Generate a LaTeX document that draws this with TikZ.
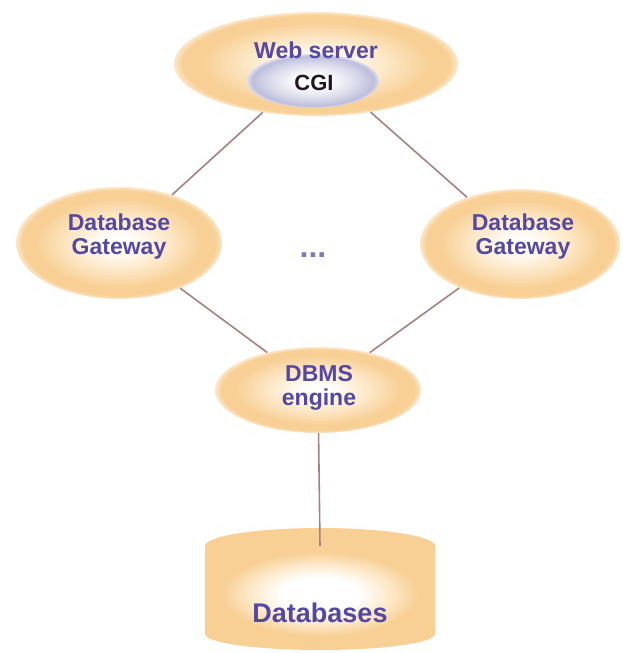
\documentclass[tikz,border=0pt]{standalone}
\usepackage{fontspec}
\setmainfont{Liberation Sans}
\usetikzlibrary{shapes.geometric}
\definecolor{peach}{RGB}{248,208,150}
\definecolor{peachlt}{RGB}{253,232,200}
\definecolor{lav}{RGB}{190,190,220}
\definecolor{ink}{RGB}{84,72,164}
\definecolor{cgiink}{RGB}{32,22,40}
\definecolor{wire}{RGB}{168,128,130}
% soft glowing fills: white core, peach rim, faded edge (path edge sits at 25bp)
\pgfdeclareradialshading{peachglow}{\pgfpoint{0bp}{0bp}}{color(0bp)=(white); color(3bp)=(white); color(12bp)=(peachlt); color(20bp)=(peach); color(23.5bp)=(peach); color(25bp)=(peach!50!white); color(50bp)=(peach!50!white)}
\pgfdeclareradialshading{cgiglow}{\pgfpoint{0bp}{0bp}}{color(0bp)=(white); color(6bp)=(white); color(17bp)=(lav!60!white); color(23bp)=(lav); color(25bp)=(lav!50!white); color(50bp)=(lav!50!white)}
\pgfdeclareradialshading{boxglow}{\pgfpoint{0bp}{0bp}}{color(0bp)=(white); color(10bp)=(white); color(18bp)=(peachlt); color(25bp)=(peach); color(50bp)=(peach)}
\tikzset{
  blob/.style={ellipse, inner sep=0pt, shading=peachglow},
  cgiblob/.style={ellipse, inner sep=0pt, shading=cgiglow},
  lbl/.style={text=ink, font=\bfseries\fontsize{23}{27}\selectfont, inner sep=0pt, anchor=base},
  wireline/.style={draw=wire, line width=1.6pt}
}
\begin{document}
\begin{tikzpicture}[x=1pt, y=-1pt]
\useasboundingbox (0,0) rectangle (622,653);

% shapes
\node[blob, minimum width=284, minimum height=104] (ws) at (316,64) {};
\node[cgiblob, minimum width=132, minimum height=54] (cgi) at (313,81) {};
\node[blob, minimum width=206, minimum height=112] (gwl) at (119,243) {};
\node[blob, minimum width=200, minimum height=110] (gwr) at (520,244) {};
\node[blob, minimum width=206, minimum height=86] (dbms) at (318,390) {};

% database cylinder
\fill[peach] (205,546) -- (205,634) arc[start angle=180, end angle=360, x radius=115pt, y radius=16pt]
  -- (435,546) arc[start angle=0, end angle=180, x radius=115pt, y radius=18pt] -- cycle;
\fill[shading=boxglow] (222,552) rectangle (418,636);
\coordinate (dbtop) at (320,546);

% connectors
\draw[wireline] (ws) -- (gwl);
\draw[wireline] (ws) -- (gwr);
\draw[wireline] (gwl) -- (dbms);
\draw[wireline] (gwr) -- (dbms);
\draw[wireline] (dbms) -- (dbtop);

% labels
\node[lbl] (tws) at (316,58) {Web server};
\node[lbl, text=cgiink, font=\bfseries\fontsize{22}{26}\selectfont] (tcgi) at (314,90) {CGI};
\node[lbl] (tgl1) at (119,230) {Database};
\node[lbl] (tgl2) at (119,254) {Gateway};
\node[lbl] (tgr1) at (523,230) {Database};
\node[lbl] (tgr2) at (523,254) {Gateway};
\node[lbl, text=ink!75, font=\bfseries\fontsize{32}{34}\selectfont] (dots) at (313,257) {...};
\node[lbl] (tdb1) at (319,381) {DBMS};
\node[lbl] (tdb2) at (319,405) {engine};
\node[lbl, font=\bfseries\fontsize{27}{31}\selectfont] (tdbs) at (320,622) {Databases};
\end{tikzpicture}
\end{document}
